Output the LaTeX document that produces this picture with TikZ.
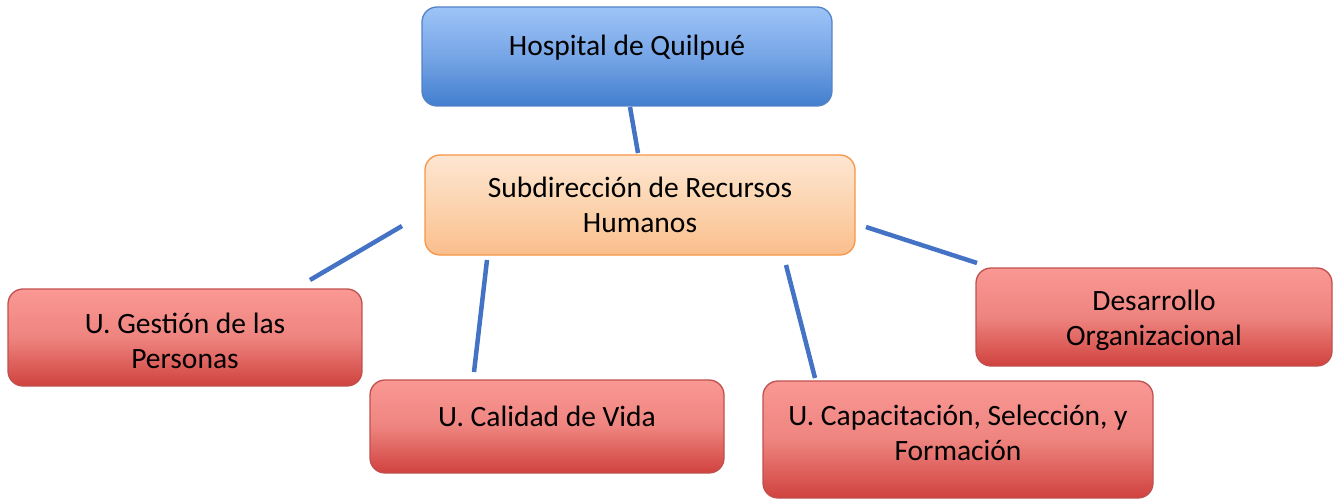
\documentclass[tikz,border=0pt]{standalone}
\usepackage{fontspec}
\setmainfont{Carlito}
\definecolor{blueT}{RGB}{157,196,247}
\definecolor{blueM}{RGB}{118,165,230}
\definecolor{blueB}{RGB}{66,126,206}
\definecolor{blueD}{RGB}{84,130,200}
\definecolor{oraT}{RGB}{253,230,210}
\definecolor{oraM}{RGB}{252,212,175}
\definecolor{oraB}{RGB}{250,190,140}
\definecolor{oraD}{RGB}{247,150,70}
\definecolor{redT}{RGB}{250,152,148}
\definecolor{redM}{RGB}{238,132,127}
\definecolor{redB}{RGB}{208,66,62}
\definecolor{redD}{RGB}{192,80,77}
\definecolor{linkC}{RGB}{68,114,196}
\begin{document}
\begin{tikzpicture}[x=1pt,y=-1pt,
  box/.style={rounded corners=15pt, line width=1.3pt, inner sep=0pt},
  bluebox/.style={box, draw=blueD, top color=blueT, bottom color=blueB, middle color=blueM},
  orabox/.style={box, draw=oraD, top color=oraT, bottom color=oraB, middle color=oraM},
  redbox/.style={box, draw=redD, top color=redT, bottom color=redB, middle color=redM},
  txt/.style={font=\fontsize{29.5}{35}\selectfont, align=center, text=black},
  link/.style={draw=linkC, line width=4.5pt}]
\useasboundingbox (0,0) rectangle (1338,500);
\node[bluebox, minimum width=410pt, minimum height=99pt,
  label={[txt, name=hospT, yshift=9pt]center:Hospital de Quilpué}] (hosp) at (627,56.5) {};
\node[orabox, minimum width=430pt, minimum height=100pt,
  label={[txt, name=subT]center:Subdirección de Recursos\\Humanos}] (sub) at (640,205) {};
\node[redbox, minimum width=354pt, minimum height=97pt,
  label={[txt, name=gesT, yshift=-3pt]center:U. Gestión de las\\Personas}] (ges) at (185,337.5) {};
\node[redbox, minimum width=354pt, minimum height=93pt,
  label={[txt, name=calT, yshift=10pt]center:U. Calidad de Vida}] (cal) at (547,426.5) {};
\node[redbox, minimum width=390pt, minimum height=117pt,
  label={[txt, name=capT, yshift=7pt]center:U. Capacitación, Selección, y\\Formación}] (cap) at (958,439.5) {};
\node[redbox, minimum width=356pt, minimum height=98pt,
  label={[txt, name=desT, yshift=-3pt]center:Desarrollo\\Organizacional}] (des) at (1154,317) {};
\coordinate (a1) at (630,107); \coordinate (a2) at (638,153);
\coordinate (b1) at (402,226); \coordinate (b2) at (310,280);
\coordinate (c1) at (487,260); \coordinate (c2) at (474,372);
\coordinate (d1) at (786,265); \coordinate (d2) at (815,378);
\coordinate (e1) at (866,227); \coordinate (e2) at (977,263);
\draw[link] (a1) -- (a2);
\draw[link] (b1) -- (b2);
\draw[link] (c1) -- (c2);
\draw[link] (d1) -- (d2);
\draw[link] (e1) -- (e2);
\end{tikzpicture}
\end{document}
